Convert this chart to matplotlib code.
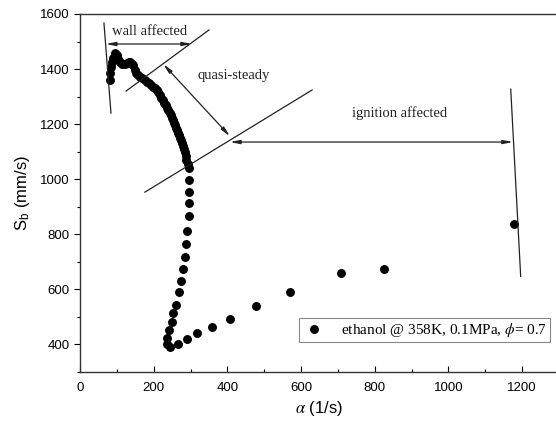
import matplotlib.pyplot as plt
import matplotlib.ticker as mticker

plt.rcParams.update({
    'font.family': 'Liberation Sans',
    'mathtext.fontset': 'stix',
    'font.size': 9.5,
})

# stretch rate alpha (1/s) and burned flame speed Sb (mm/s)
alpha = [81, 81, 84, 87, 90, 95, 100, 104, 108, 113, 117, 122, 127, 132, 136,
         140, 144, 149, 153, 157, 162, 168, 176, 182, 188, 193, 198, 204, 209,
         213, 217, 221, 225, 229, 233, 236, 239, 243, 247, 250, 252, 255, 258,
         261, 263, 266, 269, 271, 274, 276, 279, 282, 285, 287, 289, 292, 296,
         296, 296, 296, 295, 290, 288, 285, 279, 274, 268, 260, 252,
         249, 241, 236, 236, 244, 266, 290, 317, 357, 407, 477, 569, 707, 825,
         1177]
sb = [1360, 1385, 1407, 1425, 1440, 1458, 1451, 1435, 1425, 1420, 1418, 1420,
      1422, 1424, 1425, 1420, 1415, 1396, 1385, 1378, 1372, 1367, 1360, 1354,
      1349, 1342, 1335, 1330, 1324, 1315, 1305, 1296, 1287, 1278, 1269, 1260,
      1251, 1242, 1233, 1224, 1215, 1205, 1196, 1187, 1178, 1169, 1160, 1151,
      1142, 1131, 1120, 1109, 1098, 1084, 1069, 1055, 1040, 996, 953, 913,
      865, 811, 764, 716, 673, 629, 589, 545, 513, 480, 451, 425,
      400, 389, 400, 418, 440, 462, 494, 538, 589, 658, 673, 836]
series_label = 'ethanol @ 358K, 0.1MPa, $\\phi$= 0.7'

fig = plt.figure(figsize=(5.56, 4.26), dpi=100)
ax = fig.add_axes([0.1439, 0.1268, 0.8615, 0.8404])

ax.plot(alpha, sb, 'o', color='black', markersize=5.4, label=series_label,
        clip_on=False)

ax.set_xlim(0, 1300)
ax.set_ylim(300, 1600)
ax.xaxis.set_major_locator(mticker.MultipleLocator(200))
ax.xaxis.set_minor_locator(mticker.MultipleLocator(100))
ax.yaxis.set_major_locator(mticker.MultipleLocator(200))
ax.yaxis.set_minor_locator(mticker.MultipleLocator(100))
ax.tick_params(axis='x', which='both', direction='in', pad=7)
ax.tick_params(axis='y', which='both', direction='out')
ax.tick_params(which='major', length=4, width=0.8)
ax.tick_params(which='minor', length=2.5, width=0.8)
ax.yaxis.set_major_formatter(mticker.FuncFormatter(
    lambda v, p: '%d' % v if v >= 400 else ''))
for s in ax.spines.values():
    s.set_linewidth(1.0)
    s.set_color('#333333')

ax.set_xlabel('$\\alpha$ (1/s)', fontsize=12, labelpad=4)
ax.set_ylabel('S$_\\mathregular{b}$ (mm/s)', fontsize=12, labelpad=6)

# annotation lines marking the regimes
lc = '#222222'
ax.plot([65, 84], [1567, 1240], color=lc, lw=0.9)
ax.plot([125, 350], [1320, 1542], color=lc, lw=0.9)
ax.plot([176, 630], [953, 1324], color=lc, lw=0.9)
ax.plot([1169, 1196], [1327, 647], color=lc, lw=0.9)

arrow = dict(arrowstyle='<|-|>,head_length=0.6,head_width=0.12', color=lc,
             lw=0.9, shrinkA=0, shrinkB=0)
ax.annotate('', xy=(70, 1491), xytext=(304, 1491), arrowprops=arrow)
ax.annotate('', xy=(226, 1418), xytext=(407, 1156), arrowprops=arrow)
ax.annotate('', xy=(407, 1135), xytext=(1175, 1135), arrowprops=arrow)

tkw = dict(family='Liberation Serif', fontsize=10.5, color='#222222',
           ha='center', va='center')
ax.text(190, 1538, 'wall affected', **tkw)
ax.text(416, 1378, 'quasi-steady', **tkw)
ax.text(868, 1240, 'ignition affected', **tkw)

leg = ax.legend(loc='lower right', bbox_to_anchor=(0.981, 0.084),
                borderaxespad=0, fancybox=False, framealpha=1,
                edgecolor='#888888', handlelength=1.5, handletextpad=1.0,
                borderpad=0.2,
                prop={'family': 'Liberation Serif', 'size': 11})
leg.get_frame().set_linewidth(0.8)

fig.savefig('out.png', dpi=100)
